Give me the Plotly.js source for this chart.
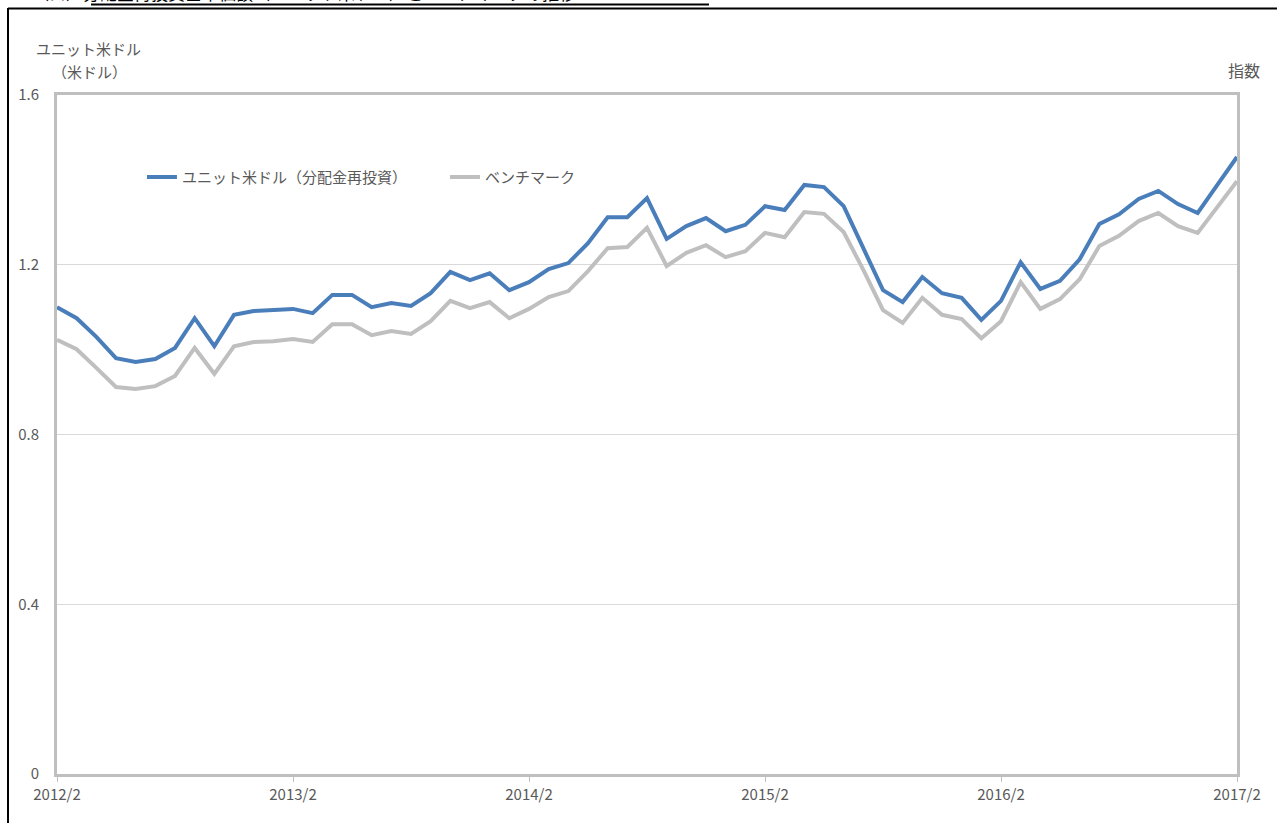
<!DOCTYPE html>
<html>
<head>
<meta charset="utf-8">
<script src="https://cdn.plot.ly/plotly-3.0.1.min.js"></script>
<style>
html,body{margin:0;padding:0;background:#fff;}
#chart{width:1277px;height:823px;}
</style>
</head>
<body>
<div id="chart"></div>
<script>
// Monthly observations, 2012/2 .. 2017/2
const months = [];
for (let y = 2012; y <= 2017; y++) {
  for (let m = 1; m <= 12; m++) {
    if (y === 2012 && m < 2) continue;
    if (y === 2017 && m > 2) continue;
    months.push(y + '/' + m);
  }
}
const unitUSD = [
  1.100, 1.074, 1.030, 0.980, 0.971, 0.978, 1.004, 1.074, 1.008, 1.082, 1.091, 1.093,
  1.096, 1.086, 1.129, 1.129, 1.100, 1.110, 1.103, 1.133, 1.183, 1.164, 1.180, 1.140,
  1.159, 1.190, 1.204, 1.251, 1.312, 1.312, 1.357, 1.261, 1.291, 1.310, 1.279, 1.294,
  1.338, 1.329, 1.388, 1.383, 1.338, 1.239, 1.140, 1.112, 1.171, 1.133, 1.122, 1.070,
  1.115, 1.206, 1.143, 1.162, 1.213, 1.296, 1.319, 1.355, 1.374, 1.343, 1.322, 1.388,
  1.454
];
const benchmark = [
  1.023, 1.001, 0.957, 0.912, 0.907, 0.914, 0.938, 1.004, 0.943, 1.008, 1.018, 1.020,
  1.025, 1.018, 1.060, 1.060, 1.034, 1.044, 1.037, 1.067, 1.115, 1.098, 1.112, 1.074,
  1.096, 1.124, 1.138, 1.185, 1.239, 1.242, 1.287, 1.197, 1.228, 1.246, 1.218, 1.232,
  1.275, 1.265, 1.324, 1.320, 1.277, 1.188, 1.093, 1.063, 1.122, 1.082, 1.072, 1.027,
  1.067, 1.159, 1.096, 1.119, 1.166, 1.244, 1.268, 1.303, 1.322, 1.291, 1.275, 1.336,
  1.397
];
const xTickLabels = ['2012/2', '2013/2', '2014/2', '2015/2', '2016/2', '2017/2'];
const yTickVals = [0, 0.4, 0.8, 1.2, 1.6];
const yTickText = ['0', '0.4', '0.8', '1.2', '1.6'];
const seriesNames = ['ユニット米ドル（分配金再投資）', 'ベンチマーク'];

const FONT = '"Noto Sans CJK JP", "Noto Sans", sans-serif';
const TXT = '#595959';

const traces = [
  {x: months, y: unitUSD, name: seriesNames[0], type: 'scatter', mode: 'lines',
   line: {color: '#4a7ebb', width: 4}},
  {x: months, y: benchmark, name: seriesNames[1], type: 'scatter', mode: 'lines',
   line: {color: '#bfbfbf', width: 4}}
];

const layout = {
  width: 1277, height: 823,
  margin: {l: 57, r: 40, t: 95, b: 49},
  paper_bgcolor: '#ffffff', plot_bgcolor: '#ffffff',
  font: {family: FONT, size: 14, color: TXT},
  showlegend: true,
  legend: {orientation: 'h', x: 0.072, y: 0.879, xanchor: 'left', yanchor: 'middle',
           font: {family: FONT, size: 15, color: TXT}, bgcolor: 'rgba(0,0,0,0)',
           itemwidth: 30, entrywidth: 258, entrywidthmode: 'pixels', tracegroupgap: 0},
  xaxis: {type: 'category', range: [0, months.length - 1],
          tickmode: 'array', tickvals: xTickLabels, ticktext: xTickLabels,
          showgrid: false, zeroline: false,
          showline: true, mirror: true, linecolor: '#bfbfbf', linewidth: 3,
          ticks: 'outside', ticklen: 5, tickcolor: '#bfbfbf', tickwidth: 1,
          tickfont: {family: FONT, size: 15, color: TXT}},
  yaxis: {range: [0, 1.6], tickmode: 'array', tickvals: yTickVals, ticktext: yTickText,
          showgrid: true, gridcolor: '#d9d9d9', gridwidth: 1, zeroline: false,
          showline: true, mirror: true, linecolor: '#bfbfbf', linewidth: 3,
          ticks: '', ticklabelstandoff: 12,
          tickfont: {family: FONT, size: 15, color: TXT}},
  annotations: [
    {xref: 'paper', yref: 'paper', x: (88.5 - 57) / 1180, y: (774 - 48) / 679, xanchor: 'center', yanchor: 'middle',
     text: 'ユニット米ドル', showarrow: false, font: {family: FONT, size: 15, color: TXT}},
    {xref: 'paper', yref: 'paper', x: (89 - 57) / 1180, y: (774 - 72) / 679, xanchor: 'center', yanchor: 'middle',
     text: '（米ドル）', showarrow: false, font: {family: FONT, size: 15, color: TXT}},
    {xref: 'paper', yref: 'paper', x: (1262 - 57) / 1180, y: (774 - 70) / 679, xanchor: 'right', yanchor: 'middle',
     text: '指数', showarrow: false, font: {family: FONT, size: 16, color: TXT}},
    {xref: 'paper', yref: 'paper', x: (30 - 57) / 1180, y: (774 + 8) / 679, xanchor: 'left', yanchor: 'middle',
     text: '（ロ）分配金再投資基準価額（ユニット米ドル）とベンチマークの推移', showarrow: false,
     font: {family: FONT, size: 17, color: '#000000'}}
  ],
  shapes: [
    {type: 'line', xref: 'paper', yref: 'paper', x0: (8 - 57) / 1180, x1: (1280 - 57) / 1180,
     y0: (774 - 8.5) / 679, y1: (774 - 8.5) / 679, line: {color: '#000000', width: 2}},
    {type: 'line', xref: 'paper', yref: 'paper', x0: (8 - 57) / 1180, x1: (8 - 57) / 1180,
     y0: (774 - 8) / 679, y1: (774 - 830) / 679, line: {color: '#000000', width: 2}},
    {type: 'line', xref: 'paper', yref: 'paper', x0: (91 - 57) / 1180, x1: (709 - 57) / 1180,
     y0: (774 - 4.5) / 679, y1: (774 - 4.5) / 679, line: {color: '#000000', width: 2}}
  ]
};

Plotly.newPlot('chart', traces, layout, {displayModeBar: false, staticPlot: true});
</script>
</body>
</html>
